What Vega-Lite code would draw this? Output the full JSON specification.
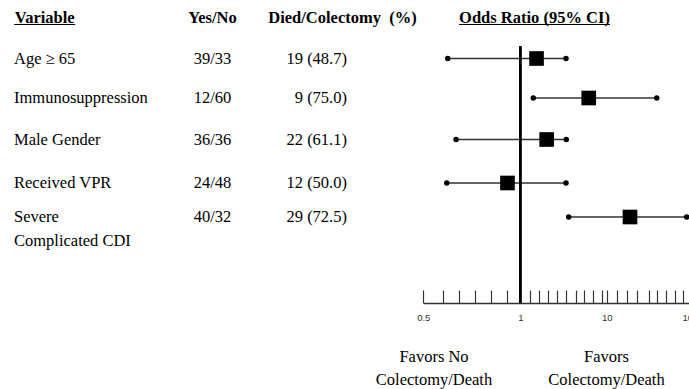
{
  "$schema": "https://vega.github.io/schema/vega-lite/v6.json",
  "width": 689,
  "height": 389,
  "padding": 0,
  "autosize": "none",
  "background": "white",
  "config": {"view": {"stroke": null}},
  "datasets": {
    "forest": [
      {"line": 1, "variable": "Age ≥ 65", "yesno": "39/33", "died": "19 (48.7)", "or": 2.69, "lo": 0.626, "hi": 5.76},
      {"line": 2, "variable": "Immunosuppression", "yesno": "12/60", "died": "9 (75.0)", "or": 8.13, "lo": 2.35, "hi": 62.2},
      {"line": 3, "variable": "Male Gender", "yesno": "36/36", "died": "22 (61.1)", "or": 3.75, "lo": 0.669, "hi": 5.79},
      {"line": 4, "variable": "Received VPR", "yesno": "24/48", "died": "12 (50.0)", "or": 0.934, "lo": 0.621, "hi": 5.76},
      {"line": 5, "variable": "Severe\nComplicated CDI", "yesno": "40/32", "died": "29 (72.5)", "or": 34.3, "lo": 6.04, "hi": 93.4}
    ],
    "headers": [
      {"line": 0, "col": 2, "text": "Variable"},
      {"line": 0, "col": 3, "text": "Yes/No"},
      {"line": 0, "col": 4, "text": "Died/Colectomy\u00a0 (%)"},
      {"line": 0, "col": 7, "text": "Odds Ratio (95% CI)"}
    ],
    "footer": [
      {"line": 7, "col": 6, "text": "Favors No\nColectomy/Death"},
      {"line": 7, "col": 8, "text": "Favors\nColectomy/Death"}
    ]
  },
  "layer": [
    {
      "data": {"name": "forest"},
      "layer": [
        {
          "mark": {"type": "rule", "color": "#333", "strokeWidth": 1.5},
          "encoding": {
            "x": {"field": "lo", "type": "quantitative",
                  "scale": {"type": "linear", "domain": [0.5, 1, 10, 100], "range": [423.3, 520.3, 606.7, 693], "nice": false, "zero": false},
                  "axis": {
                    "orient": "bottom", "offset": -86, "title": null, "grid": false,
                    "values": [0.5, 0.6, 0.684, 0.766, 0.849, 0.93, 1, 2.04, 2.97, 3.91, 4.84, 5.78, 6.81, 7.67, 8.55, 9.48, 10, 21, 31.5, 41.3, 54, 62, 71.5, 81.5, 90, 100],
                    "tickCount": 200,
                    "format": "~g",
                    "labelExpr": "(datum.value == 0.5 || datum.value == 1 || datum.value == 10 || datum.value == 100) ? datum.label : ''",
                    "labelOffset": {"condition": {"test": "datum.value == 100", "value": -3}, "value": 0},
                    "domainColor": "#333", "domainWidth": 1.5,
                    "tickColor": "#333", "tickWidth": 1.2, "tickSize": -13,
                    "labelPadding": 22, "labelFont": "Liberation Sans", "labelFontSize": 9.5, "labelColor": "#333",
                    "labelFlush": false, "labelOverlap": false, "labelBound": false
                  }},
            "x2": {"field": "hi"},
            "y": {"field": "line", "type": "quantitative",
                  "scale": {"type": "linear", "domain": [0, 1, 2, 3, 4, 5, 6, 7], "range": [17.5, 58.5, 98, 139.5, 183, 217, 303, 357], "nice": false, "zero": false},
                  "axis": null}
          }
        },
        {
          "mark": {"type": "rule", "color": "black", "strokeWidth": 2},
          "encoding": {
            "x": {"datum": 1, "type": "quantitative"},
            "y": {"datum": 0.7, "type": "quantitative"},
            "y2": {"datum": 6}
          }
        },
        {
          "mark": {"type": "circle", "size": 30, "color": "black", "opacity": 1},
          "encoding": {
            "x": {"field": "lo", "type": "quantitative"},
            "y": {"field": "line", "type": "quantitative"}
          }
        },
        {
          "mark": {"type": "circle", "size": 30, "color": "black", "opacity": 1},
          "encoding": {
            "x": {"field": "hi", "type": "quantitative"},
            "y": {"field": "line", "type": "quantitative"}
          }
        },
        {
          "mark": {"type": "square", "size": 215, "color": "black", "opacity": 1},
          "encoding": {
            "x": {"field": "or", "type": "quantitative"},
            "y": {"field": "line", "type": "quantitative"}
          }
        }
      ]
    },
    {
      "layer": [
        {
          "data": {"name": "forest"},
          "mark": {"type": "text", "align": "left", "baseline": "alphabetic", "dy": 5, "lineBreak": "\n", "lineHeight": 24, "font": "Liberation Serif", "fontSize": 16.5, "color": "black"},
          "encoding": {
            "x": {"datum": 1, "type": "quantitative",
                  "scale": {"type": "linear", "domain": [1, 2, 3, 4, 5, 6, 7, 8], "range": [14, 44.7, 212.5, 342.5, 347, 434, 534.5, 606.5], "nice": false, "zero": false},
                  "axis": null},
            "y": {"field": "line", "type": "quantitative",
                  "scale": {"type": "linear", "domain": [0, 1, 2, 3, 4, 5, 6, 7], "range": [17.5, 58.5, 98, 139.5, 183, 217, 303, 357], "nice": false, "zero": false},
                  "axis": null},
            "text": {"field": "variable"}
          }
        },
        {
          "data": {"name": "forest"},
          "mark": {"type": "text", "align": "center", "baseline": "alphabetic", "dy": 5, "font": "Liberation Serif", "fontSize": 16.5, "color": "black"},
          "encoding": {
            "x": {"datum": 3, "type": "quantitative"},
            "y": {"field": "line", "type": "quantitative"},
            "text": {"field": "yesno"}
          }
        },
        {
          "data": {"name": "forest"},
          "mark": {"type": "text", "align": "right", "baseline": "alphabetic", "dy": 5, "font": "Liberation Serif", "fontSize": 16.5, "color": "black"},
          "encoding": {
            "x": {"datum": 5, "type": "quantitative"},
            "y": {"field": "line", "type": "quantitative"},
            "text": {"field": "died"}
          }
        },
        {
          "data": {"name": "headers"},
          "mark": {"type": "text", "align": "center", "baseline": "alphabetic", "dy": 5, "font": "Liberation Serif", "fontSize": 16.5, "fontWeight": "bold", "color": "black"},
          "encoding": {
            "x": {"field": "col", "type": "quantitative"},
            "y": {"field": "line", "type": "quantitative"},
            "text": {"field": "text"}
          }
        },
        {
          "data": {"name": "headers"},
          "transform": [{"filter": "datum.text == 'Variable'"}],
          "mark": {"type": "tick", "orient": "horizontal", "size": 61, "thickness": 1.2, "yOffset": 7, "color": "black", "opacity": 1},
          "encoding": {
            "x": {"field": "col", "type": "quantitative"},
            "y": {"field": "line", "type": "quantitative"}
          }
        },
        {
          "data": {"name": "headers"},
          "transform": [{"filter": "datum.col == 7"}],
          "mark": {"type": "tick", "orient": "horizontal", "size": 151, "thickness": 1.2, "yOffset": 7, "color": "black", "opacity": 1},
          "encoding": {
            "x": {"field": "col", "type": "quantitative"},
            "y": {"field": "line", "type": "quantitative"}
          }
        },
        {
          "data": {"name": "footer"},
          "mark": {"type": "text", "align": "center", "baseline": "alphabetic", "dy": 5, "lineBreak": "\n", "lineHeight": 23, "font": "Liberation Serif", "fontSize": 16.5, "color": "black"},
          "encoding": {
            "x": {"field": "col", "type": "quantitative"},
            "y": {"field": "line", "type": "quantitative"},
            "text": {"field": "text"}
          }
        }
      ]
    }
  ],
  "resolve": {"scale": {"x": "independent"}, "axis": {"x": "independent"}}
}
